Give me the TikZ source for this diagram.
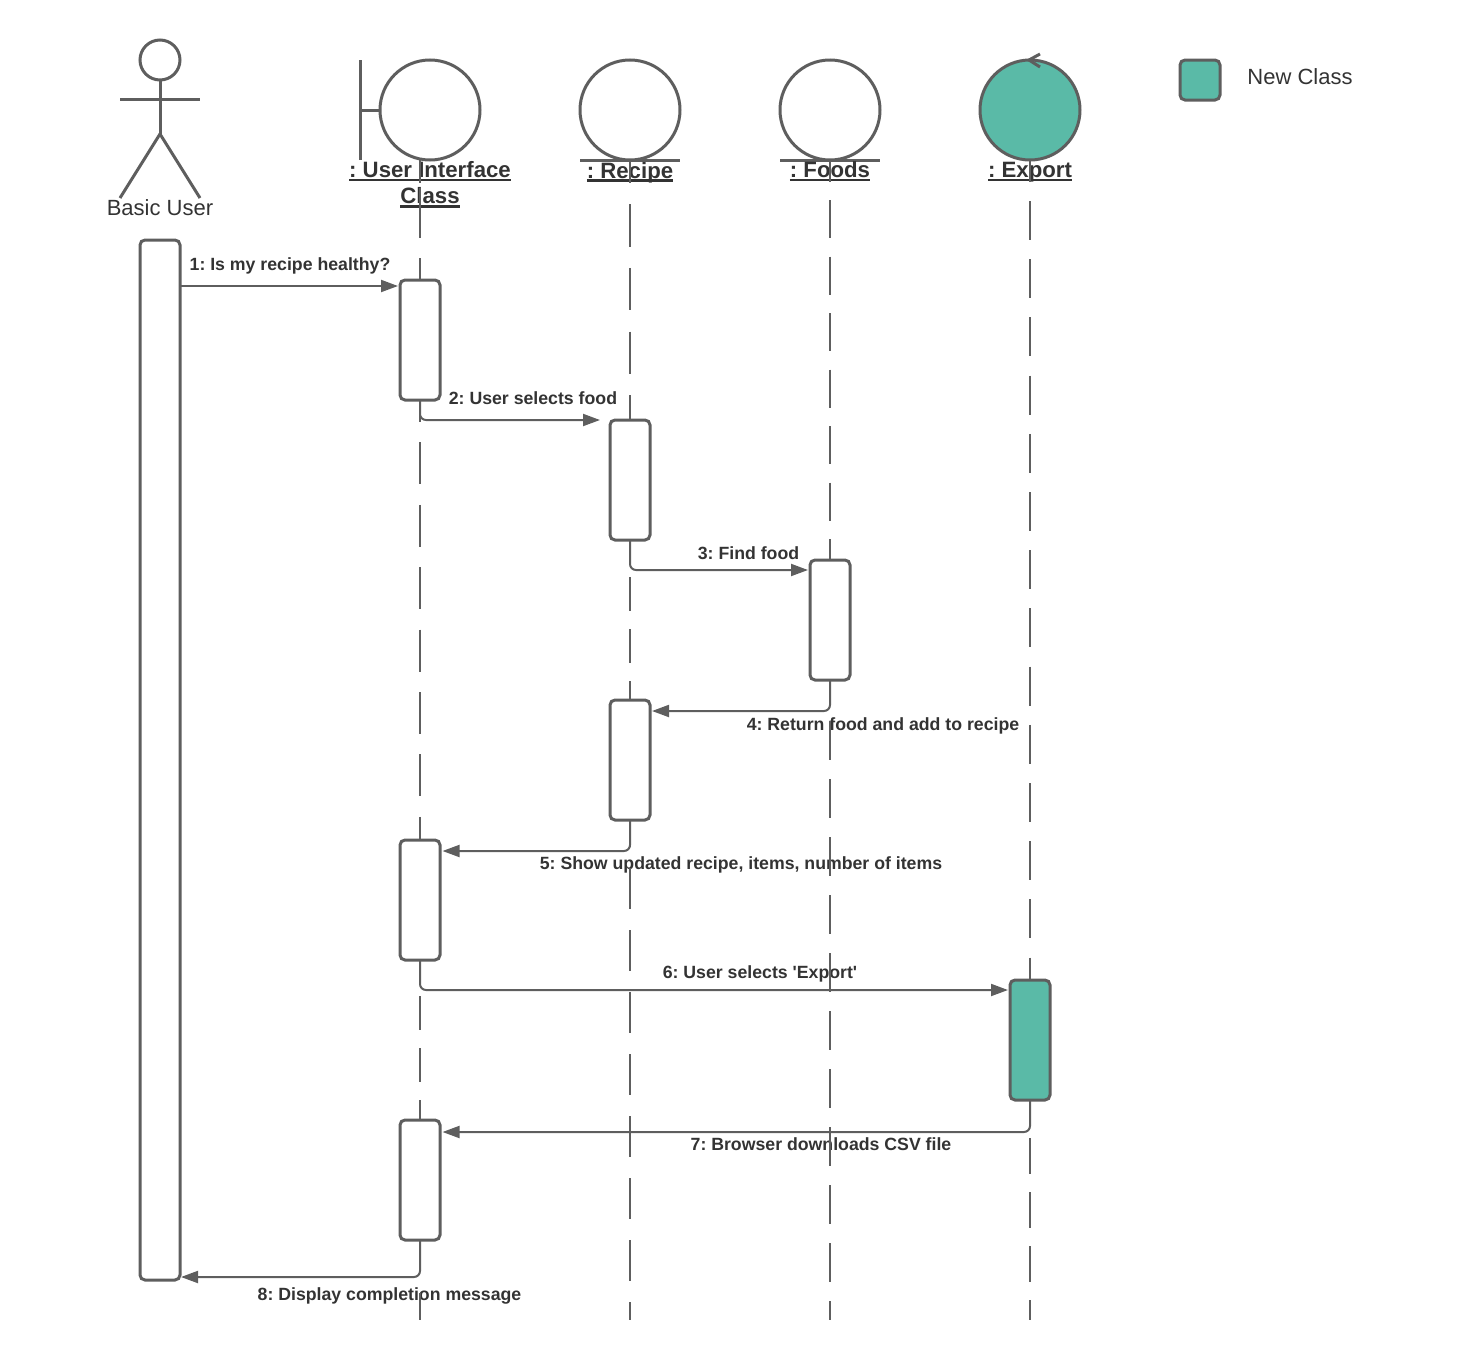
\documentclass[tikz,border=0pt]{standalone}
\usepackage{fontspec}
\setmainfont{Liberation Sans}
\usepackage{tikz}
\usetikzlibrary{arrows.meta}
\definecolor{umlgray}{HTML}{5E5E5E}
\definecolor{umlteal}{HTML}{5ABAA7}
\definecolor{umltext}{HTML}{333333}
\frenchspacing
\newcommand{\headul}[1]{\leavevmode\setbox0=\hbox{#1}\rlap{\rule[-3.6pt]{\wd0}{2.4pt}}\box0}
\tikzset{
	shapeline/.style={draw=umlgray,line width=3pt},
	headball/.style={shapeline,circle,minimum size=100pt,inner sep=0pt,outer sep=0pt},
	actbox/.style={shapeline,fill=white,rounded corners=5pt,minimum width=40pt,inner sep=0pt,outer sep=0pt},
	newclass/.style={fill=umlteal},
	lifeline/.style={draw=umlgray,line width=2pt},
	msgline/.style={draw=umlgray,line width=2pt,rounded corners=6pt,-{Triangle[length=17pt,width=12pt]}},
	headlabel/.style={text=umltext,align=center,inner sep=0pt,font=\fontsize{22.2}{26.5}\selectfont\bfseries},
	plainlabel/.style={text=umltext,inner sep=0pt,font=\fontsize{22}{26}\selectfont},
	msglabel/.style={text=umltext,inner sep=0pt,text height=12.8pt,text depth=0pt,font=\fontsize{17.7}{21}\selectfont\bfseries}
}
\begin{document}
\begin{tikzpicture}[x=1pt,y=-1pt]
	\useasboundingbox (0,0) rectangle (1460,1360);
	\node[shapeline,circle,minimum size=40pt,inner sep=0pt,outer sep=0pt] (userhead) at (160,60) {};
	\coordinate (hip) at (160,134);
	\draw[shapeline] (userhead.south) -- (hip);
	\draw[shapeline] (120,99) -- (200,99);
	\draw[shapeline] (120,198) -- (hip) -- (200,198);
	\node[plainlabel] (userlabel) at (160,208) {Basic User};
	\node[headball] (uihead) at (430,110) {};
	\node[headball] (recipehead) at (630,110) {};
	\node[headball] (foodshead) at (830,110) {};
	\node[headball,newclass] (exporthead) at (1030,110) {};
	\draw[shapeline] (360,60) -- (360,160);
	\draw[shapeline] (360,110) -- (uihead.west);
	\draw[shapeline] (580,160) -- (680,160);
	\draw[shapeline] (780,160) -- (880,160);
	\draw[shapeline] (1040,54) -- (1029,60) -- (1040,67);
	\node[headlabel] (uilabel) at (430,184.5) {\headul{: User Interface}\\\headul{Class}};
	\node[headlabel] (recipelabel) at (630,172.5) {\headul{: Recipe}};
	\node[headlabel] (foodslabel) at (830,171.5) {\headul{: Foods}};
	\node[headlabel] (exportlabel) at (1030,172.5) {\headul{: Export}};
	\node[shapeline,newclass,rounded corners=5pt,minimum size=40pt,inner sep=0pt,outer sep=0pt] (legendbox) at (1200,80) {};
	\node[plainlabel] (legendlabel) at (1300,77) {New Class};
	\node[actbox,minimum height=1040pt] (userbar) at (160,760) {};
	\node[actbox,minimum height=120pt] (ui1) at (420,340) {};
	\node[actbox,minimum height=120pt] (ui2) at (420,900) {};
	\node[actbox,minimum height=120pt] (ui3) at (420,1180) {};
	\node[actbox,minimum height=120pt] (recipe1) at (630,480) {};
	\node[actbox,minimum height=120pt] (recipe2) at (630,760) {};
	\node[actbox,minimum height=120pt] (foods1) at (830,620) {};
	\node[actbox,newclass,minimum height=120pt] (export1) at (1030,1040) {};
	\coordinate (uiend) at (420,1320);
	\coordinate (recipeend) at (630,1320);
	\coordinate (foodsend) at (830,1320);
	\coordinate (exportend) at (1030,1320);
	\node[msglabel] (msg1) at (290,264) {1: Is my recipe healthy?};
	\node[msglabel] (msg2) at (533,398) {2: User selects food};
	\node[msglabel] (msg3) at (748.5,553) {3: Find food};
	\node[msglabel] (msg4) at (883,724) {4: Return food and add to recipe};
	\node[msglabel] (msg5) at (741,863.5) {5: Show updated recipe, items, number of items};
	\node[msglabel] (msg6) at (760,972) {6: User selects \textquotesingle Export\textquotesingle};
	\node[msglabel] (msg7) at (821,1144) {7: Browser downloads CSV file};
	\node[msglabel] (msg8) at (389.5,1294) {8: Display completion message};
	\draw[lifeline,dash pattern=on 23pt off 5pt on 50pt off 20pt on 30pt] (ui1.north |- uihead.south) -- (ui1.north);
	\draw[lifeline,dash pattern=on 42pt off 20.4pt,dash phase=20pt] (ui1.south) -- (ui2.north);
	\draw[lifeline,dash pattern=on 34pt off 18pt,dash phase=16pt] (ui2.south) -- (ui3.north);
	\draw[lifeline,dash pattern=on 30pt off 23pt on 40pt off 0pt] (ui3.south) -- (uiend);
	\draw[lifeline,dash pattern=on 42.5pt off 21.2pt,dash phase=19.5pt] (recipe1.north |- recipehead.south) -- (recipe1.north);
	\draw[lifeline,dash pattern=on 34pt off 18pt,dash phase=15pt] (recipe1.south) -- (recipe2.north);
	\draw[lifeline,dash pattern=on 41pt off 21pt,dash phase=14pt] (recipe2.south) -- (recipeend);
	\draw[lifeline,dash pattern=on 38pt off 18.5pt,dash phase=16.5pt] (foods1.north |- foodshead.south) -- (foods1.north);
	\draw[lifeline,dash pattern=on 39pt off 19pt,dash phase=17pt] (foods1.south) -- (foodsend);
	\draw[lifeline,dash pattern=on 39pt off 19.2pt,dash phase=17.2pt] (export1.north |- exporthead.south) -- (export1.north);
	\draw[lifeline,dash pattern=on 36pt off 18pt,dash phase=16pt] (export1.south) -- (exportend);
	\draw[msgline,shorten >=2pt] (userbar.east |- 0,286) -- ([yshift=-6pt]ui1.north west);
	\draw[msgline,shorten >=10pt] (ui1.south) |- (recipe1.north west);
	\draw[msgline,shorten >=2pt] (recipe1.south) |- ([yshift=-10pt]foods1.north west);
	\draw[msgline,shorten >=2pt] (foods1.south) |- ([yshift=-11pt]recipe2.north east);
	\draw[msgline,shorten >=2.5pt] (recipe2.south) |- ([yshift=-11pt]ui2.north east);
	\draw[msgline,shorten >=2pt] (ui2.south) |- ([yshift=-10pt]export1.north west);
	\draw[msgline,shorten >=2.5pt] (export1.south) |- ([yshift=-12pt]ui3.north east);
	\draw[msgline,shorten >=1pt] (ui3.south) |- ([yshift=3pt]userbar.south east);
\end{tikzpicture}
\end{document}
